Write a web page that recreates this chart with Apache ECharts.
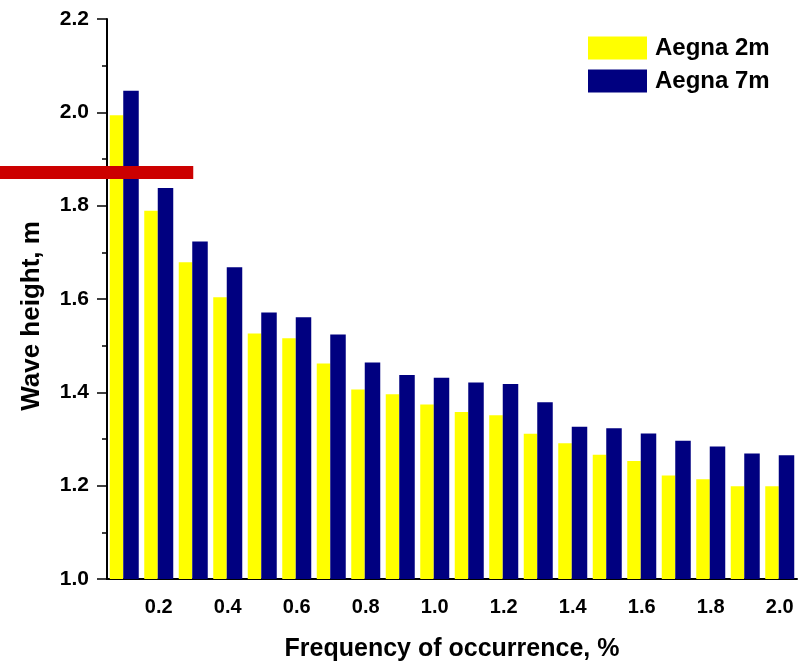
<!DOCTYPE html>
<html>
<head>
<meta charset="utf-8">
<script src="https://cdn.jsdelivr.net/npm/echarts@6/dist/echarts.min.js"></script>
<style>
  html, body { margin: 0; padding: 0; background: #fff; }
  #main { width: 808px; height: 664px; }
</style>
</head>
<body>
<div id="main"></div>
<script>
// frequency of occurrence (%) on the x axis
const freq = ['0.1', '0.2', '0.3', '0.4', '0.5', '0.6', '0.7', '0.8', '0.9', '1.0',
              '1.1', '1.2', '1.3', '1.4', '1.5', '1.6', '1.7', '1.8', '1.9', '2.0'];
// wave heights, m
const aegna2m = [1.994, 1.789, 1.679, 1.604, 1.526, 1.516, 1.462, 1.406, 1.396, 1.374,
                 1.358, 1.351, 1.311, 1.291, 1.266, 1.253, 1.222, 1.214, 1.199, 1.199];
const aegna7m = [2.046, 1.838, 1.723, 1.668, 1.571, 1.561, 1.524, 1.464, 1.437, 1.431,
                 1.421, 1.418, 1.379, 1.326, 1.323, 1.312, 1.296, 1.284, 1.269, 1.265];
// red reference line
const refLevel = 1.871;
const refEnd = '0.3';

const myChart = echarts.init(document.getElementById('main'));
const labelFont = { color: '#000', fontWeight: 'bold', fontFamily: 'Liberation Sans, Arial, sans-serif' };
const everyOther = (i) => i % 2 === 1;

const option = {
    animation: false,
    grid: { left: 107, right: 11, top: 19, bottom: 85, outerBoundsMode: 'none' },
    legend: {
        orient: 'vertical',
        left: 583, top: 31,
        itemWidth: 59, itemHeight: 23, itemGap: 9,
        icon: 'rect',
        data: ['Aegna 2m', 'Aegna 7m'],
        textStyle: Object.assign({ fontSize: 24, padding: [0, 0, 0, 3] }, labelFont)
    },
    xAxis: [{
        type: 'category',
        data: freq,
        position: 'bottom',
        axisLine: { onZero: false, lineStyle: { color: '#000', width: 2 } },
        axisTick: { alignWithLabel: true, interval: 0, length: 5, lineStyle: { color: '#000', width: 1.5 } },
        axisLabel: { show: false }
    }, {
        type: 'category',
        data: freq,
        position: 'bottom',
        axisLine: { show: false, onZero: false },
        axisTick: { alignWithLabel: true, interval: everyOther, length: 10, lineStyle: { color: '#000', width: 1.5 } },
        axisLabel: Object.assign({ interval: everyOther, fontSize: 20, margin: 18 }, labelFont),
        name: 'Frequency of occurrence, %',
        nameLocation: 'middle',
        nameGap: 58,
        nameTextStyle: Object.assign({ fontSize: 25 }, labelFont)
    }],
    yAxis: {
        type: 'value',
        min: 1.0, max: 2.2, interval: 0.2,
        axisLine: { show: true, lineStyle: { color: '#000', width: 2 } },
        axisTick: { show: true, length: 10, lineStyle: { color: '#000', width: 1.5 } },
        minorTick: { show: true, splitNumber: 2, length: 5, lineStyle: { color: '#000', width: 1.5 } },
        splitLine: { show: false },
        axisLabel: Object.assign({ fontSize: 21, margin: 18, formatter: (v) => v.toFixed(1) }, labelFont),
        name: 'Wave height, m',
        nameLocation: 'middle',
        nameRotate: 90,
        nameGap: 62,
        nameTextStyle: Object.assign({ fontSize: 26, padding: [0, 34, 0, 0] }, labelFont)
    },
    series: [{
        name: 'Aegna 2m',
        type: 'bar',
        data: aegna2m,
        barWidth: 13.5,
        barGap: '0%',
        itemStyle: { color: '#ffff00' }
    }, {
        name: 'Aegna 7m',
        type: 'bar',
        data: aegna7m,
        barWidth: 15.5,
        barGap: '0%',
        itemStyle: { color: '#000080' }
    }, {
        name: 'ref',
        type: 'line',
        data: [],
        silent: true,
        markLine: {
            silent: true,
            symbol: 'none',
            label: { show: false },
            lineStyle: { color: '#cc0000', width: 13, type: 'solid', opacity: 1 },
            emphasis: { disabled: true },
            data: [[{ x: 0, yAxis: refLevel }, { xAxis: refEnd, yAxis: refLevel }]]
        }
    }]
};
myChart.setOption(option);
</script>
</body>
</html>
